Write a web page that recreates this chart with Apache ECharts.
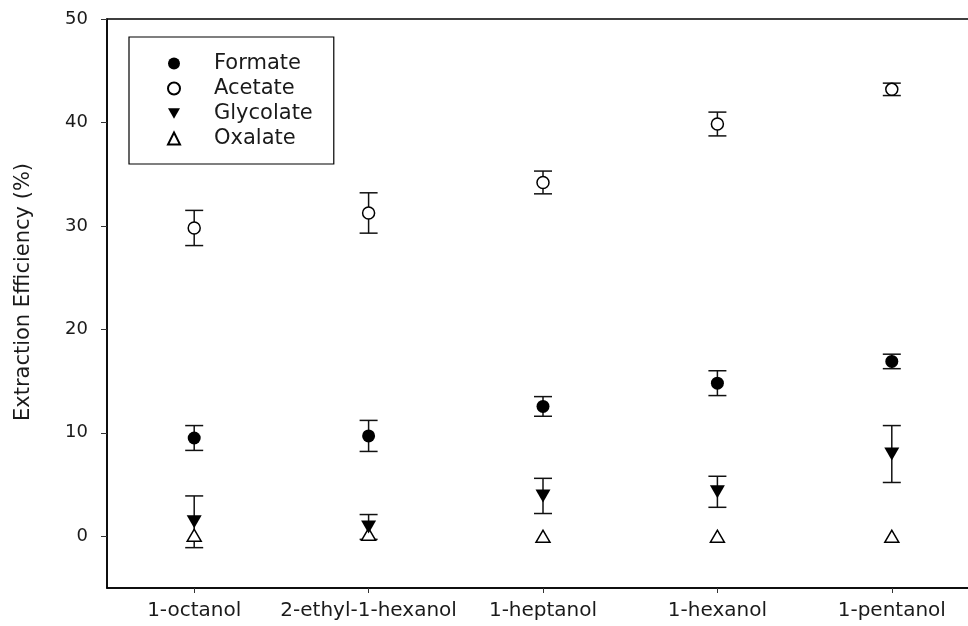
<!DOCTYPE html>
<html>
<head>
<meta charset="utf-8">
<script src="https://cdn.jsdelivr.net/npm/echarts@6/dist/echarts.min.js"></script>
<style>
html,body{margin:0;padding:0;background:#fff;}
#chart{width:968px;height:626px;}
</style>
</head>
<body>
<div id="chart"></div>
<script>
var categories = ['1-octanol', '2-ethyl-1-hexanol', '1-heptanol', '1-hexanol', '1-pentanol'];
var formate = [9.5, 9.7, 12.55, 14.8, 16.9];
var formateErr = [1.2, 1.5, 0.95, 1.2, 0.7];
var acetate = [29.8, 31.25, 34.2, 39.85, 43.2];
var acetateErr = [1.7, 1.95, 1.1, 1.15, 0.6];
var glycolate = [1.4, 0.9, 3.9, 4.3, 7.95];
var glycolateErr = [2.5, 1.2, 1.7, 1.5, 2.75];
var oxalate = [0.1, 0.2, 0, 0, 0];
var yTicks = [0, 10, 20, 30, 40, 50];

var FONT = 'DejaVu Sans';
var TXT = '#1a1a1a';

function errData(vals, errs) {
  var out = [];
  for (var i = 0; i < vals.length; i++) {
    out.push([i, vals[i] - errs[i], vals[i] + errs[i]]);
  }
  return out;
}

function errRender(params, api) {
  var x = api.value(0);
  var lo = api.coord([x, api.value(1)]);
  var hi = api.coord([x, api.value(2)]);
  var hw = 9;
  var st = { stroke: '#111', lineWidth: 1.5, fill: null };
  return {
    type: 'group',
    children: [
      { type: 'line', shape: { x1: lo[0], y1: lo[1], x2: hi[0], y2: hi[1] }, style: st },
      { type: 'line', shape: { x1: lo[0] - hw, y1: lo[1], x2: lo[0] + hw, y2: lo[1] }, style: st },
      { type: 'line', shape: { x1: hi[0] - hw, y1: hi[1], x2: hi[0] + hw, y2: hi[1] }, style: st }
    ]
  };
}

function errSeries(vals, errs) {
  return {
    type: 'custom',
    renderItem: errRender,
    data: errData(vals, errs),
    encode: { x: 0, y: [1, 2] },
    z: 1,
    silent: true
  };
}

var downTri = 'path://M0,0 L14,0 L7,12 Z';

var chart = echarts.init(document.getElementById('chart'), null, { renderer: 'canvas' });
chart.setOption({
  backgroundColor: '#fff',
  animation: false,
  grid: {
    left: 107, width: 872, top: 19, bottom: 38,
    outerBoundsMode: 'none',
    containLabel: false,
    show: true, borderColor: '#000', borderWidth: 1.5, backgroundColor: 'transparent'
  },
  legend: {
    orient: 'vertical',
    left: 129, top: 37,
    padding: [16, 21, 15, 38],
    borderColor: '#000', borderWidth: 1.2,
    itemGap: 4,
    itemWidth: 12, itemHeight: 12,
    textStyle: { fontFamily: FONT, fontSize: 21, color: TXT, lineHeight: 20, padding: [0, 0, 0, 29] },
    data: [
      { name: 'Formate' },
      { name: 'Acetate' },
      { name: 'Glycolate' },
      { name: 'Oxalate' }
    ]
  },
  xAxis: {
    type: 'category',
    data: categories,
    boundaryGap: true,
    axisLine: { show: true, onZero: false, lineStyle: { color: '#000', width: 1.5 } },
    axisTick: { show: true, alignWithLabel: true, length: 5, lineStyle: { color: '#333', width: 1 } },
    axisLabel: { fontFamily: FONT, fontSize: 20, color: TXT, margin: 13, interval: 0 },
    splitLine: { show: false }
  },
  yAxis: {
    type: 'value',
    min: -5, max: 50,
    name: 'Extraction Efficiency (%)',
    nameLocation: 'middle',
    nameRotate: 90,
    nameGap: 73,
    nameTextStyle: { fontFamily: FONT, fontSize: 21, color: TXT, padding: [0, 0, 0, 23] },
    axisLine: { show: true, lineStyle: { color: '#000', width: 1.5 } },
    axisTick: { show: true, inside: false, length: 6, customValues: yTicks, lineStyle: { color: '#333', width: 1 } },
    axisLabel: { fontFamily: FONT, fontSize: 18, color: TXT, margin: 19, customValues: yTicks },
    splitLine: { show: false }
  },
  series: [
    errSeries(formate, formateErr),
    errSeries(acetate, acetateErr),
    errSeries(glycolate, glycolateErr),
    {
      name: 'Formate', type: 'scatter', data: formate, z: 5,
      symbol: 'circle', symbolSize: 13,
      itemStyle: { color: '#000', borderColor: '#000', borderWidth: 0, opacity: 1 }
    },
    {
      name: 'Acetate', type: 'scatter', data: acetate, z: 5,
      symbol: 'circle', symbolSize: 12,
      itemStyle: { color: '#fff', borderColor: '#000', borderWidth: 1.5, opacity: 1 }
    },
    {
      name: 'Glycolate', type: 'scatter', data: glycolate, z: 5,
      symbol: downTri, symbolSize: [15, 13],
      itemStyle: { color: '#000', borderColor: '#000', borderWidth: 0, opacity: 1 }
    },
    {
      name: 'Oxalate', type: 'scatter', data: oxalate, z: 4,
      symbol: 'triangle', symbolSize: [14, 12],
      itemStyle: { color: '#fff', borderColor: '#000', borderWidth: 1.5, opacity: 1 }
    }
  ]
});
</script>
</body>
</html>
